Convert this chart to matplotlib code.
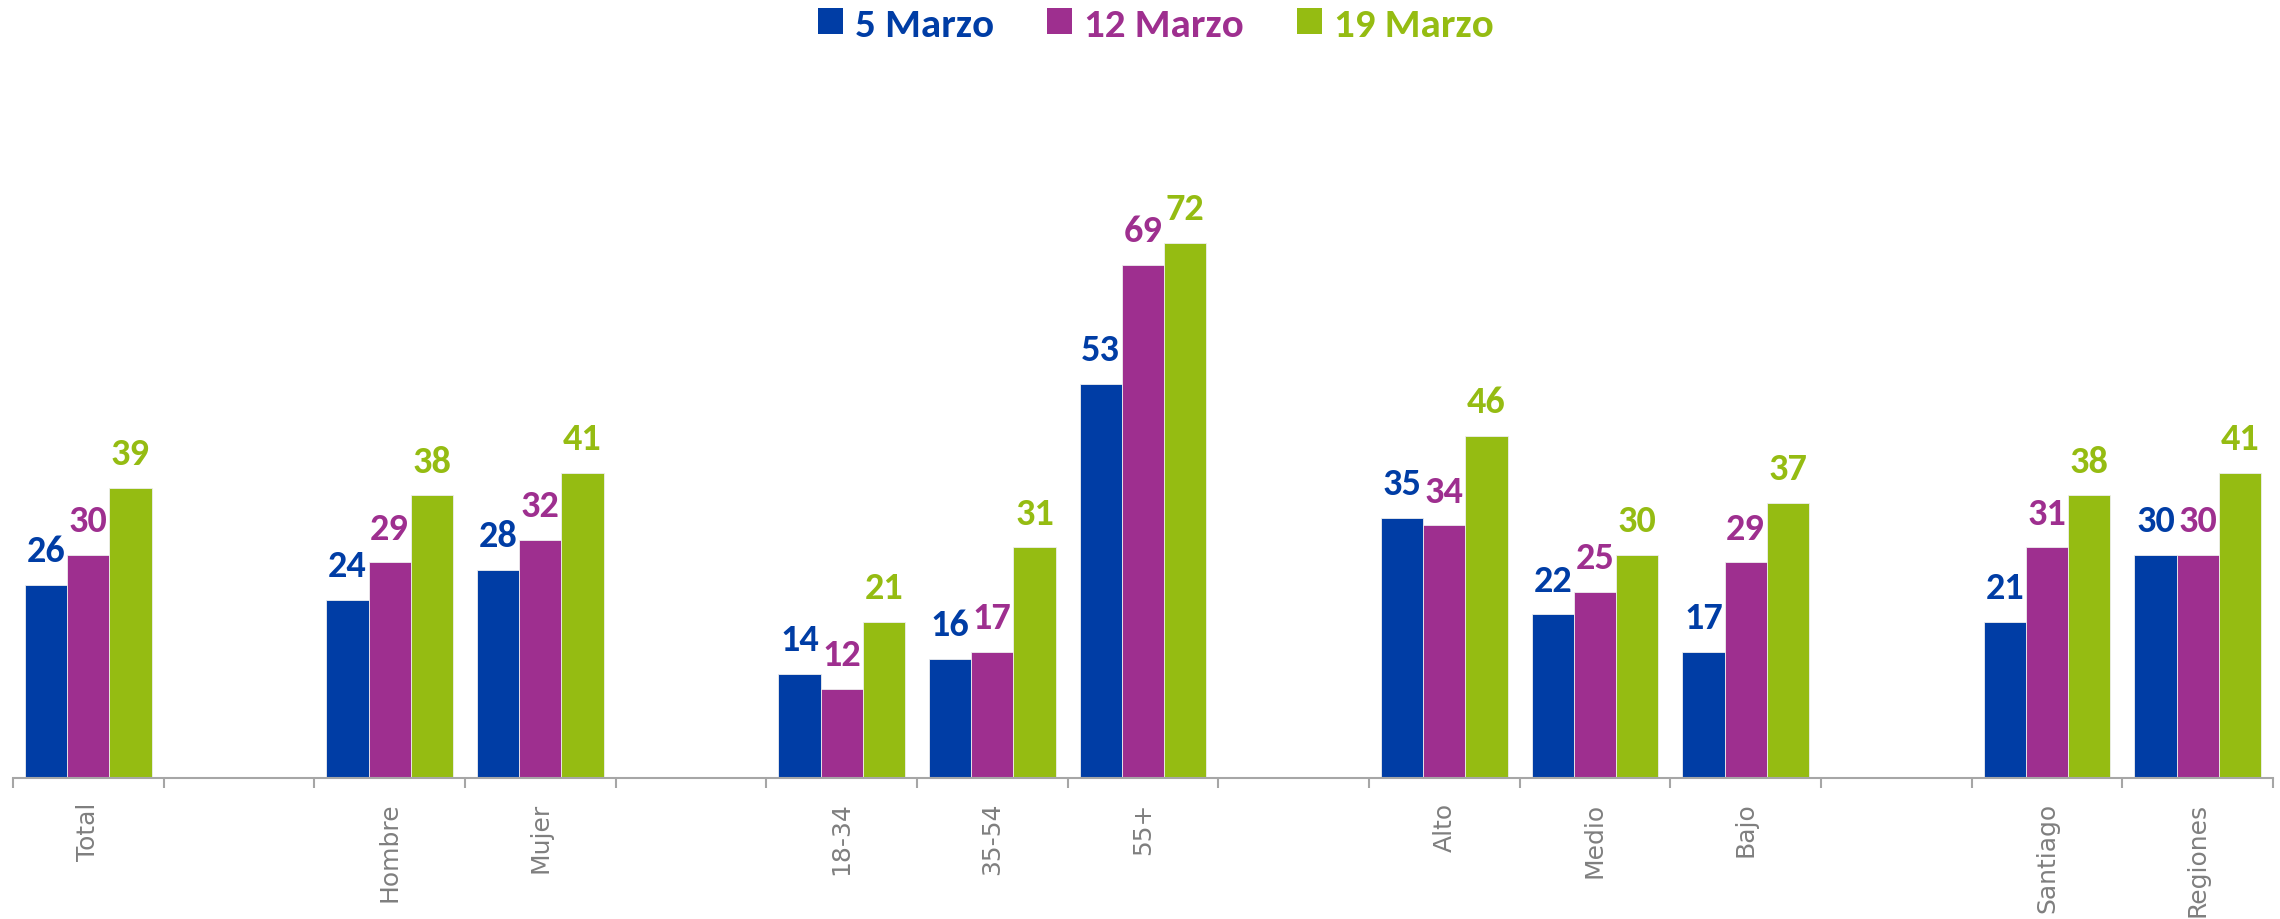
import matplotlib
matplotlib.use("Agg")
import matplotlib.pyplot as plt
from matplotlib import font_manager
from matplotlib.patches import Patch

# Data (empty strings are spacer slots)
categories = ["Total", "", "Hombre", "Mujer", "", "18-34", "35-54", "55+", "",
              "Alto", "Medio", "Bajo", "", "Santiago", "Regiones"]
marzo_5 = [26, None, 24, 28, None, 14, 16, 53, None, 35, 22, 17, None, 21, 30]
marzo_12 = [30, None, 29, 32, None, 12, 17, 69, None, 34, 25, 29, None, 31, 30]
marzo_19 = [39, None, 38, 41, None, 21, 31, 72, None, 46, 30, 37, None, 38, 41]
series_names = ["5 Marzo", "12 Marzo", "19 Marzo"]
colors = ["#003DA5", "#9E2F8F", "#95BC12"]

# Calibri look-alike if present, otherwise Open Sans (slightly larger glyphs)
names = {f.name for f in font_manager.fontManager.ttflist}
if "Carlito" in names:
    bold_font, num_size, leg_size = "Carlito", 27.5, 29.5
else:
    bold_font, num_size, leg_size = "Open Sans", 23, 25

fig = plt.figure(figsize=(22.8, 9.2), dpi=100)
ax = fig.add_axes([13 / 2280, 1 - 779 / 920, 2260 / 2280, (779 - 184) / 920])

width = 0.28
offsets = [-width, 0, width]
all_series = [marzo_5, marzo_12, marzo_19]

for values, off, col in zip(all_series, offsets, colors):
    xs = [i + off for i, v in enumerate(values) if v is not None]
    ys = [v for v in values if v is not None]
    bars = ax.bar(xs, ys, width=width, color=col, edgecolor="#eeeeee",
                  linewidth=0.6, zorder=2)
    for b, v in zip(bars, ys):
        ax.annotate(str(v), (b.get_x() + b.get_width() / 2, v),
                    xytext=(0, 17), textcoords="offset points",
                    ha="center", va="baseline", color=col, fontsize=num_size,
                    fontweight="bold", family=bold_font)

ax.set_xlim(-0.5, len(categories) - 0.5)
ax.set_ylim(0, 80)

# category labels at slot centres, tick marks at slot edges
ax.set_xticks(range(len(categories)))
ax.set_xticklabels(categories, rotation=90, fontsize=18, color="#7f7f7f",
                   family="DejaVu Sans")
ax.set_xticks([i - 0.5 for i in range(len(categories) + 1)], minor=True)
ax.tick_params(axis="x", which="major", length=0, pad=17)
ax.tick_params(axis="x", which="minor", length=7.5, width=1.5, color="#a6a6a6")

ax.set_yticks([])
for s in ["top", "right", "left"]:
    ax.spines[s].set_visible(False)
ax.spines["bottom"].set_color("#a6a6a6")
ax.spines["bottom"].set_linewidth(1.5)

handles = [Patch(facecolor=c, edgecolor="none") for c in colors]
leg = fig.legend(handles, series_names, loc="center", ncol=3,
                 bbox_to_anchor=(0.507, 0.972), frameon=False,
                 handlelength=0.6, handleheight=0.6, handletextpad=0.3,
                 columnspacing=1.3, labelcolor=colors,
                 prop=dict(size=leg_size, weight="bold", family=bold_font))

fig.savefig("out.png", dpi=100)
